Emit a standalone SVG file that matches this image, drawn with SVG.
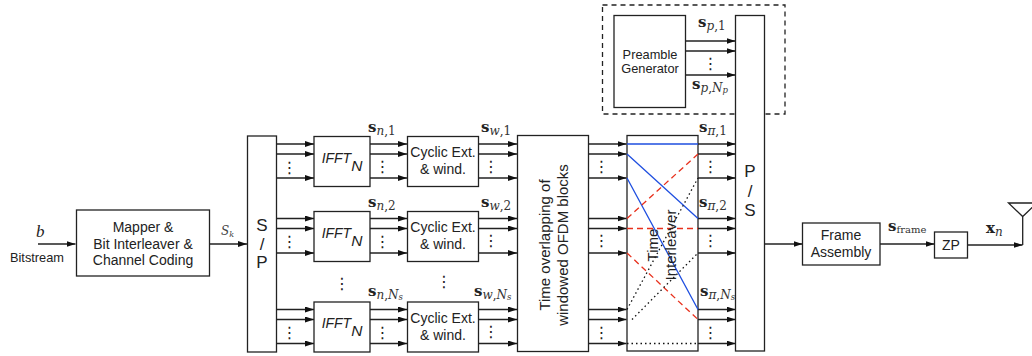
<svg xmlns="http://www.w3.org/2000/svg" width="1032" height="356" viewBox="0 0 1032 356">
<defs>
<marker id="a" markerUnits="userSpaceOnUse" markerWidth="9" markerHeight="6" refX="9" refY="3" orient="auto"><path d="M0 0L9 3L0 6Z" fill="#111"/></marker>
</defs>
<style>
rect{fill:#fff;stroke:#222;stroke-width:1.3}
.w{font-family:"Liberation Sans",Arial,sans-serif;fill:#222;text-anchor:middle}
.t{font-size:14px}
.b{font-size:17px}
.f{font-size:14px;font-style:italic}
.f tspan{font-size:15.500px}
.v{font-size:15px}
.m{font-family:"DejaVu Serif",serif;fill:#222;font-size:15px;font-weight:bold}
.s{font-style:italic;font-weight:normal;font-size:12px;fill:#333}
.n{font-weight:normal;font-size:12px;fill:#333}
.u{font-style:italic;font-weight:normal;font-size:8.500px;fill:#333}
.l{stroke:#222;stroke-width:1.3;fill:none}
.r{marker-end:url(#a)}
.d{font-family:"DejaVu Sans",sans-serif;font-size:16px;fill:#222;text-anchor:middle}
.bl{stroke:#1f4fe0;stroke-width:1.3;fill:none}
.rd{stroke:#e8301c;stroke-width:1.3;fill:none;stroke-dasharray:6 4}
.dt{stroke:#111;stroke-width:1.3;fill:none;stroke-dasharray:1.5 3}
</style>
<g id="connectors" class="l">
<path class="r" d="M38 244H75.500"/>
<path class="r" d="M210 244H247"/>
<path class="r" d="M277 144H314"/><path class="r" d="M277 154H314"/><path class="r" d="M277 178H314"/>
<path class="r" d="M277 218.500H314"/><path class="r" d="M277 228.500H314"/><path class="r" d="M277 253H314"/>
<path class="r" d="M277 309.500H314"/><path class="r" d="M277 319.500H314"/><path class="r" d="M277 343.500H314"/>
<path class="r" d="M370 144H407"/><path class="r" d="M370 154H407"/><path class="r" d="M370 178H407"/>
<path class="r" d="M370 218.500H407"/><path class="r" d="M370 228.500H407"/><path class="r" d="M370 253H407"/>
<path class="r" d="M370 309.500H407"/><path class="r" d="M370 319.500H407"/><path class="r" d="M370 343.500H407"/>
<path class="r" d="M479 144H517"/><path class="r" d="M479 154H517"/><path class="r" d="M479 178H517"/>
<path class="r" d="M479 218.500H517"/><path class="r" d="M479 228.500H517"/><path class="r" d="M479 253H517"/>
<path class="r" d="M479 309.500H517"/><path class="r" d="M479 319.500H517"/><path class="r" d="M479 343.500H517"/>
<path class="r" d="M589 144H626.500"/><path class="r" d="M589 154H626.500"/><path class="r" d="M589 178H626.500"/>
<path class="r" d="M589 218.500H626.500"/><path class="r" d="M589 228.500H626.500"/><path class="r" d="M589 253H626.500"/>
<path class="r" d="M589 309.500H626.500"/><path class="r" d="M589 319.500H626.500"/><path class="r" d="M589 343.500H626.500"/>
<path class="r" d="M698 144H735.500"/><path class="r" d="M698 154H735.500"/><path class="r" d="M698 178H735.500"/>
<path class="r" d="M698 218.500H735.500"/><path class="r" d="M698 228.500H735.500"/><path class="r" d="M698 253H735.500"/>
<path class="r" d="M698 309.500H735.500"/><path class="r" d="M698 319.500H735.500"/><path class="r" d="M698 343.500H735.500"/>
<path class="r" d="M686 41H735.500"/><path class="r" d="M686 51H735.500"/><path class="r" d="M686 75H735.500"/>
<path class="r" d="M765 244H802.500"/>
<path class="r" d="M880 244H934.500"/>
<path class="r" d="M968 245H1022.500"/>
<path d="M1022.700 245V216.500M1008.500 203H1037L1022.700 216.500Z"/>
</g>
<g id="preamble-group"><rect x="602.500" y="5" width="182.500" height="109" style="fill:none;stroke-dasharray:5 4"/></g>
<g id="mapper"><rect x="76.500" y="210" width="133" height="66"/><text class="w t" x="143" y="232">Mapper &amp;</text><text class="w t" x="143" y="248.500">Bit Interleaver &amp;</text><text class="w t" x="143" y="265">Channel Coding</text></g>
<g id="sp"><rect x="247.500" y="136" width="29" height="216"/><text class="w b" x="262" y="231">S</text><text class="w b" x="262" y="250">/</text><text class="w b" x="262" y="268">P</text></g>
<g id="ifft1"><rect x="314" y="136.500" width="56" height="50"/><text class="w f" x="342" y="163">IFFT<tspan dy="8">N</tspan></text></g>
<g id="ifft2"><rect x="314" y="211.500" width="56" height="50"/><text class="w f" x="342" y="238">IFFT<tspan dy="8">N</tspan></text></g>
<g id="ifft3"><rect x="314" y="302" width="56" height="50"/><text class="w f" x="342" y="328">IFFT<tspan dy="8">N</tspan></text></g>
<g id="cyc1"><rect x="407.500" y="136.500" width="71" height="50"/><text class="w t" x="443" y="157">Cyclic Ext.</text><text class="w t" x="443" y="174">&amp; wind.</text></g>
<g id="cyc2"><rect x="407.500" y="211.500" width="71" height="50"/><text class="w t" x="443" y="232">Cyclic Ext.</text><text class="w t" x="443" y="249">&amp; wind.</text></g>
<g id="cyc3"><rect x="407.500" y="302" width="71" height="50"/><text class="w t" x="443" y="323">Cyclic Ext.</text><text class="w t" x="443" y="340">&amp; wind.</text></g>
<g id="overlap"><rect x="517.500" y="135.500" width="71" height="216"/><text class="w v" transform="translate(550 245) rotate(-90)">Time overlapping of</text><text class="w v" transform="translate(567.500 245) rotate(-90)">windowed OFDM blocks</text></g>
<g id="interleaver"><rect x="627" y="135.500" width="71" height="215.500"/>
<path class="bl" d="M627 144H698M627 154L698 218.500M627 178L698 309.500"/>
<path class="rd" d="M627 218.500L698 154M627 228.500H698M627 253L698 319.500"/>
<path class="dt" d="M627 309.500L698 178M632 319.500L698 253M627 343.500H698"/>
<text class="w v" transform="translate(658 245) rotate(-90)">Time</text><text class="w v" transform="translate(676 245) rotate(-90)">Interleaver</text></g>
<g id="ps"><rect x="735.500" y="15.500" width="29" height="335.500"/><text class="w b" x="750" y="177">P</text><text class="w b" x="750" y="197">/</text><text class="w b" x="750" y="216">S</text></g>
<g id="preamble"><rect x="614" y="15.500" width="71.500" height="92"/><text class="w" font-size="12.800" x="650" y="59">Preamble</text><text class="w" font-size="12.800" x="650" y="73">Generator</text></g>
<g id="frame"><rect x="802.500" y="223" width="77.500" height="42"/><text class="w t" x="841" y="240">Frame</text><text class="w t" x="841" y="257">Assembly</text></g>
<g id="zp"><rect x="934.500" y="232" width="33" height="26"/><text class="w t" x="951" y="250">ZP</text></g>
<g id="labels">
<text x="36" y="237" font-family="Liberation Serif,serif" font-style="italic" font-size="17" fill="#222">b</text>
<text class="w" font-size="12.800" x="37" y="262">Bitstream</text>
<text x="221" y="235" font-family="DejaVu Serif,serif" font-style="italic" font-size="12" fill="#444">S<tspan font-size="8" dy="2">k</tspan></text>
<g class="m">
<text x="368" y="132">s<tspan class="s" dy="3">n</tspan><tspan class="n">,1</tspan></text>
<text x="368" y="207">s<tspan class="s" dy="3">n</tspan><tspan class="n">,2</tspan></text>
<text x="368" y="296">s<tspan class="s" dy="3">n</tspan><tspan class="n">,</tspan><tspan class="s">N</tspan><tspan class="u" dy="1">s</tspan></text>
<text x="481" y="132">s<tspan class="s" dy="3">w</tspan><tspan class="n">,1</tspan></text>
<text x="481" y="207">s<tspan class="s" dy="3">w</tspan><tspan class="n">,2</tspan></text>
<text x="474" y="296">s<tspan class="s" dy="3">w</tspan><tspan class="n">,</tspan><tspan class="s">N</tspan><tspan class="u" dy="1">s</tspan></text>
<text x="699" y="132">s<tspan class="s" dy="3">π</tspan><tspan class="n">,1</tspan></text>
<text x="699" y="207">s<tspan class="s" dy="3">π</tspan><tspan class="n">,2</tspan></text>
<text x="700" y="296">s<tspan class="s" dy="3">π</tspan><tspan class="n">,</tspan><tspan class="s">N</tspan><tspan class="u" dy="1">s</tspan></text>
<text x="698" y="27">s<tspan class="s" dy="3">p</tspan><tspan class="n">,1</tspan></text>
<text x="692" y="89">s<tspan class="s" dy="3">p</tspan><tspan class="n">,</tspan><tspan class="s">N</tspan><tspan class="u" dy="1">p</tspan></text>
<text x="888" y="231">s<tspan class="n" dy="2" style="font-size:10px">frame</tspan></text>
<text x="986" y="233">x<tspan class="s" dy="3">n</tspan></text>
</g>
<g class="d">
<text x="289.500" y="173">⋮</text><text x="289.500" y="247">⋮</text><text x="289.500" y="338">⋮</text>
<text x="382.500" y="172">⋮</text><text x="382.500" y="247">⋮</text><text x="382.500" y="338">⋮</text>
<text x="491" y="172">⋮</text><text x="491" y="246">⋮</text><text x="491" y="337">⋮</text>
<text x="601.500" y="172">⋮</text><text x="601.500" y="246">⋮</text><text x="601.500" y="338">⋮</text>
<text x="710.500" y="172">⋮</text><text x="710.500" y="246">⋮</text><text x="710.500" y="338">⋮</text>
<text x="710.500" y="69">⋮</text>
<text x="342" y="289">⋮</text><text x="444" y="287">⋮</text>
</g>
</g>
</svg>
